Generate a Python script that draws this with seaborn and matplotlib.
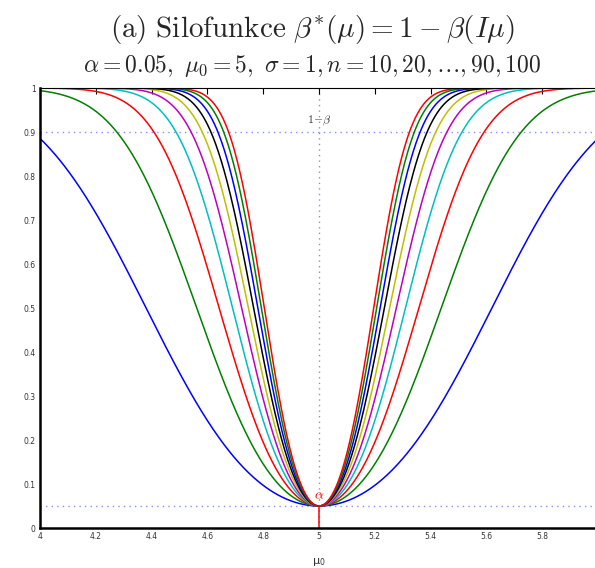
import numpy as np
import pandas as pd
import matplotlib
matplotlib.use("Agg")
import matplotlib.pyplot as plt
import seaborn as sns
from math import erf, sqrt

# Test parameters
alpha = 0.05
mu0 = 5.0
sigma = 1.0
sample_sizes = [10, 20, 30, 40, 50, 60, 70, 80, 90, 100]
line_colors = ["b", "g", "r", "c", "m", "y", "k", "b", "g", "r"]
x_ticks = [4.0, 4.2, 4.4, 4.6, 4.8, 5.0, 5.2, 5.4, 5.6, 5.8]
y_ticks = [0, 0.1, 0.2, 0.3, 0.4, 0.5, 0.6, 0.7, 0.8, 0.9, 1.0]
power_level = 0.9

z_crit = 1.959963984540054  # two-sided critical value for alpha = 0.05
mu = np.linspace(4.0, 6.0, 801)
phi = np.vectorize(lambda t: 0.5 * (1.0 + erf(t / sqrt(2.0))))

rows = []
for n in sample_sizes:
    shift = np.sqrt(n) * (mu - mu0) / sigma
    power = phi(-z_crit + shift) + phi(-z_crit - shift)
    rows.append(pd.DataFrame({"mu": mu, "power": power, "n": n}))
df = pd.concat(rows, ignore_index=True)

sns.set_style("white")
plt.rcParams["mathtext.fontset"] = "cm"
plt.rcParams["font.family"] = ["DejaVu Sans"]

fig = plt.figure(figsize=(5.95, 5.68), dpi=100)
ax = fig.add_axes([40 / 595, 1 - 528 / 568, 558 / 595, 440 / 568])

for n, col in zip(sample_sizes, line_colors):
    sns.lineplot(data=df[df["n"] == n], x="mu", y="power", color=col,
                 linewidth=1.1, ax=ax, legend=False, errorbar=None)

# reference lines
dot_col = (0.55, 0.55, 1.0)
ax.axhline(power_level, color=dot_col, linestyle=(0, (1, 3)), linewidth=1.0, zorder=0)
ax.axhline(alpha, color=dot_col, linestyle=(0, (1, 3)), linewidth=1.0, zorder=0)
ax.axvline(mu0, color=(0.55, 0.55, 0.85), linestyle=(0, (1, 3)), linewidth=1.0, zorder=0)
ax.plot([mu0, mu0], [0, alpha], color="red", linewidth=1.1)

ax.text(mu0, alpha + 0.008, r"$\alpha$", color="red", ha="center", va="bottom", fontsize=10)
ax.text(mu0, power_level + 0.008, r"$1\!-\!\beta$", color="#333333", ha="center",
        va="bottom", fontsize=8.5)

ax.set_xlim(4.0, 6.0)
ax.set_ylim(0, 1)
ax.set_xticks(x_ticks)
ax.set_xticklabels([f"{v:g}" for v in x_ticks])
ax.set_yticks(y_ticks)
ax.set_yticklabels([f"{v:g}" for v in y_ticks])
ax.tick_params(direction="in", length=4, width=0.8, labelsize=5.5, colors="black",
               labelcolor="#333333", top=True, right=False, pad=3)
for side in ["left", "bottom"]:
    ax.spines[side].set_linewidth(1.8)
    ax.spines[side].set_color("black")
ax.spines["top"].set_linewidth(0.8)
ax.spines["top"].set_color("black")
ax.spines["right"].set_visible(False)

ax.set_xlabel(r"$\mathregular{\mu_0}$", fontsize=8, labelpad=11, color="#333333")
ax.set_ylabel("")

fig.text(312 / 595, 1 - 30 / 568,
         r"$\mathrm{(a)\ Silofunkce}\ \beta^{*}(\mu) = 1 - \beta(I\mu)$",
         ha="center", va="center", fontsize=21)
fig.text(312 / 595, 1 - 66 / 568,
         r"$\alpha = 0.05,\ \mu_0 = 5,\ \sigma = 1, n = 10, 20, \ldots, 90, 100$",
         ha="center", va="center", fontsize=17)

fig.savefig("out.png", dpi=100)
